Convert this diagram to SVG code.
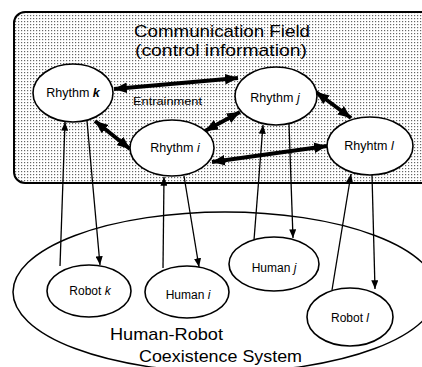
<svg xmlns="http://www.w3.org/2000/svg" width="422" height="367" viewBox="0 0 422 367">
<style>
.node{fill:#fff;stroke:#000;stroke-width:1.6}
.lbl{font-family:"Liberation Sans",Arial,sans-serif;font-size:12.5px;fill:#000;text-anchor:middle}
.big{font-family:"Liberation Sans",Arial,sans-serif;font-size:17px;fill:#000}
.thick{stroke:#000;stroke-width:4;fill:none;marker-start:url(#hs);marker-end:url(#he)}
.thin{stroke:#000;stroke-width:1.3;fill:none;marker-end:url(#ta)}
</style>
<defs>
<pattern id="dots" width="3" height="3" patternUnits="userSpaceOnUse">
<rect x="0" y="0" width="1.2" height="1.2" fill="#666"/>
</pattern>
<marker id="he" viewBox="0 0 12 10" refX="12" refY="5" markerWidth="13" markerHeight="11" markerUnits="userSpaceOnUse" orient="auto">
<path d="M0,0 L12,5 L0,10 Z" fill="#000"/>
</marker>
<marker id="hs" viewBox="0 0 12 10" refX="0" refY="5" markerWidth="13" markerHeight="11" markerUnits="userSpaceOnUse" orient="auto">
<path d="M12,0 L0,5 L12,10 Z" fill="#000"/>
</marker>
<marker id="ta" viewBox="0 0 10 8" refX="10" refY="4" markerWidth="9" markerHeight="7" markerUnits="userSpaceOnUse" orient="auto">
<path d="M0,0 L10,4 L0,8 Z" fill="#000"/>
</marker>
</defs>
<rect width="422" height="367" fill="#fff"/>
<g id="field">
<rect x="14" y="12" width="430" height="171" rx="11" fill="#fff" stroke="none"/>
<rect x="14" y="12" width="430" height="171" rx="11" fill="url(#dots)" stroke="#000" stroke-width="2"/>
<text class="big" x="134" y="37" textLength="176" lengthAdjust="spacingAndGlyphs">Communication Field</text>
<text class="big" x="135" y="56" textLength="172" lengthAdjust="spacingAndGlyphs">(control information)</text>
<text class="lbl" x="133" y="105" style="text-anchor:start;font-size:11.5px" textLength="69" lengthAdjust="spacingAndGlyphs">Entrainment</text>
</g>
<g id="system">
<ellipse cx="225" cy="292" rx="212" ry="80" fill="none" stroke="#000" stroke-width="1.5"/>
<text class="big" x="110" y="340" textLength="113" lengthAdjust="spacingAndGlyphs">Human-Robot</text>
<text class="big" x="139" y="362" textLength="163" lengthAdjust="spacingAndGlyphs">Coexistence System</text>
</g>
<g id="connectors">
<line class="thick" x1="114" y1="89" x2="238" y2="78"/>
<line class="thick" x1="95" y1="121" x2="130" y2="149"/>
<line class="thick" x1="205" y1="131" x2="240" y2="112"/>
<line class="thick" x1="316" y1="92" x2="351" y2="118"/>
<line class="thick" x1="212" y1="162" x2="327" y2="146"/>
<line class="thin" x1="60" y1="266" x2="65" y2="122"/>
<line class="thin" x1="87" y1="121" x2="100" y2="265"/>
<line class="thin" x1="163" y1="268" x2="164" y2="177"/>
<line class="thin" x1="184" y1="176" x2="199" y2="267"/>
<line class="thin" x1="254" y1="240" x2="263" y2="125"/>
<line class="thin" x1="289" y1="124" x2="293" y2="238"/>
<line class="thin" x1="332" y1="290" x2="351" y2="174"/>
<line class="thin" x1="372" y1="175" x2="375" y2="289"/>
</g>
<g id="rhythm-k">
<ellipse class="node" cx="73" cy="93" rx="40" ry="29"/>
<text class="lbl" x="73" y="97">Rhythm <tspan font-style="italic" font-weight="bold">k</tspan></text>
</g>
<g id="rhythm-i">
<ellipse class="node" cx="172" cy="148" rx="42" ry="28"/>
<text class="lbl" x="175" y="152">Rhythm <tspan font-style="italic">i</tspan></text>
</g>
<g id="rhythm-j">
<ellipse class="node" cx="276" cy="96" rx="41" ry="29"/>
<text class="lbl" x="275" y="102">Rhythm <tspan font-style="italic">j</tspan></text>
</g>
<g id="rhythm-l">
<ellipse class="node" cx="370" cy="146" rx="43" ry="29"/>
<text class="lbl" x="369" y="150">Rhyhtm <tspan font-style="italic">l</tspan></text>
</g>
<g id="robot-k">
<ellipse class="node" cx="89" cy="291" rx="42" ry="26"/>
<text class="lbl" x="90" y="295" style="font-size:12px">Robot <tspan font-style="italic">k</tspan></text>
</g>
<g id="human-i">
<ellipse class="node" cx="187" cy="292" rx="42" ry="26"/>
<text class="lbl" x="188" y="299" style="font-size:12px">Human <tspan font-style="italic">i</tspan></text>
</g>
<g id="human-j">
<ellipse class="node" cx="274" cy="264" rx="45" ry="27"/>
<text class="lbl" x="274" y="272" style="font-size:12px">Human <tspan font-style="italic">j</tspan></text>
</g>
<g id="robot-l">
<ellipse class="node" cx="350" cy="317" rx="43" ry="29"/>
<text class="lbl" x="350" y="322" style="font-size:12px">Robot <tspan font-style="italic">l</tspan></text>
</g>
</svg>
